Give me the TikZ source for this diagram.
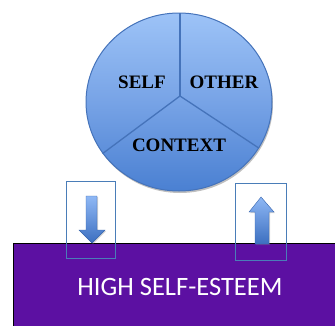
\documentclass[tikz,border=0pt]{standalone}
\usepackage{fontspec}
\setmainfont{Liberation Serif}
\newfontfamily\carlito{Carlito}
\usetikzlibrary{shadows,shapes.geometric}
\definecolor{pie1}{HTML}{9DC3F7}
\definecolor{pie3}{HTML}{77A3E6}
\definecolor{pie2}{HTML}{4A80D2}
\definecolor{pieedge}{HTML}{4573BA}
\definecolor{purp}{HTML}{5C10A2}
\definecolor{boxline}{HTML}{4A7DB8}
\definecolor{arr1}{HTML}{8FB8F5}
\definecolor{arr2}{HTML}{3C6FC0}
\tikzset{
  lab/.style={font=\bfseries\fontsize{19}{20}\selectfont, text=black, inner sep=0pt},
  frame/.style={draw=boxline, line width=0.9pt},
  blockarrow/.style={draw=arr2!90!black, line width=0.4pt, top color=arr1, bottom color=arr2, drop shadow={opacity=0.35, shadow xshift=1pt, shadow yshift=-1.2pt}},
}
\begin{document}
\begin{tikzpicture}[x=1pt,y=-1pt]
\useasboundingbox (0,0) rectangle (335,325);
% purple bar
\node[draw=black, line width=0.8pt, fill=purp, minimum width=330pt, minimum height=90pt, anchor=north west, inner sep=0pt] (bar) at (13.4,243) {};
\node[text=white, font=\carlito\fontsize{26.5}{28}\selectfont, inner sep=0pt] (hse) at (180,287) {HIGH SELF-ESTEEM};
% circle
\fill[black, opacity=0.25] (180,104) ellipse [x radius=93, y radius=89];
\node[ellipse, draw=pieedge, line width=1pt, top color=pie1, bottom color=pie2, middle color=pie3, minimum width=186pt, minimum height=178pt, inner sep=0pt] (pie) at (179,102) {};
\coordinate (hub) at (180,96);
\draw[pieedge, line width=1.3pt] (hub) -- (pie.north -| hub);
\draw[pieedge, line width=1.3pt] (hub) -- (pie.214);
\draw[pieedge, line width=1.3pt] (hub) -- (pie.-30);
\node[lab] (self) at (142,82) {SELF};
\node[lab] (other) at (224,82) {OTHER};
\node[lab] (ctx) at (179,145) {CONTEXT};
% arrows
\path[blockarrow] (86,196) -- (97,196) -- (97,230) -- (105,230) -- (92,243) -- (79,230) -- (86,230) -- cycle;
\path[blockarrow] (255,244) -- (255,212) -- (249,212) -- (261,197) -- (274,212) -- (269,212) -- (269,244) -- cycle;
% frames
\node[frame, minimum width=49pt, minimum height=77pt, inner sep=0pt, anchor=north west] (lbox) at (66,181) {};
\node[frame, minimum width=51pt, minimum height=77pt, inner sep=0pt, anchor=north west] (rbox) at (235,183) {};
\end{tikzpicture}
\end{document}
